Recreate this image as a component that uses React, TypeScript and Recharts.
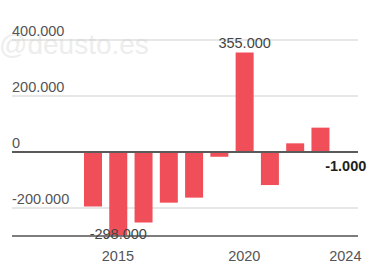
import React from "react";
import { BarChart, Bar, XAxis, YAxis, CartesianGrid, ReferenceLine, LabelList } from "recharts";

const years = [2014, 2015, 2016, 2017, 2018, 2019, 2020, 2021, 2022, 2023, 2024];
const balance = [-195000, -298000, -252000, -181000, -163000, -17000, 355000, -118000, 31000, 87000, -1000];
const yTicks = [-200000, 0, 200000, 400000];
const xTickYears = [2015, 2020, 2024];
const labeledYears = [2015, 2020, 2024];
const highlightYear = 2024;

const C = {
  bar: "#f04f59",
  grid: "#cfcfcf",
  axis: "#5a5a5a",
  text: "#555555",
  label: "#444444",
  strong: "#1e1e1e",
  mark: "#ededed",
};

const FONT = "Liberation Sans, Arial, sans-serif";

const data = years.map((year, i) => ({ year, value: balance[i] }));

function fmt(v: number) {
  const s = Math.abs(v).toString().replace(/\B(?=(\d{3})+(?!\d))/g, ".");
  return v < 0 ? "-" + s : s;
}

function YTick(props: any) {
  const { y, payload } = props;
  return (
    <text x={12} y={y - 4} fontFamily={FONT} fontSize={14.5} fill={C.text}>
      {fmt(payload.value)}
    </text>
  );
}

function XTick(props: any) {
  const { x, y, payload } = props;
  if (!xTickYears.includes(payload.value)) return null;
  return (
    <text x={x} y={y + 17} textAnchor="middle" fontFamily={FONT} fontSize={14.5} fill={C.text}>
      {payload.value}
    </text>
  );
}

function BarLabel(props: any) {
  const { x, y, width, height, index } = props;
  const d = data[index];
  if (!d || !labeledYears.includes(d.year)) return null;
  const cx = x + width / 2;
  const strong = d.year === highlightYear;
  let ty;
  if (d.value >= 0) {
    ty = Math.min(y, y + height) - 5;
  } else {
    const bottom = Math.max(y, y + height);
    ty = Math.min(bottom + 19, 239);
  }
  return (
    <text
      x={cx}
      y={ty}
      textAnchor="middle"
      fontFamily={FONT}
      fontSize={14.5}
      fontWeight={strong ? "bold" : "normal"}
      fill={strong ? C.strong : C.label}
    >
      {fmt(d.value)}
    </text>
  );
}

export default function App() {
  return (
    <div style={{ position: "absolute", left: 0, top: 0, width: 369, height: 266, background: "#fff" }}>
      <div
        style={{
          position: "absolute",
          left: -1,
          top: 30,
          fontFamily: FONT,
          fontSize: 28,
          color: C.mark,
          lineHeight: "30px",
          whiteSpace: "nowrap",
        }}
      >
        @deusto.es
      </div>
      <div style={{ position: "absolute", left: 0, top: 0 }}>
        <BarChart width={369} height={266} data={data} margin={{ top: 40, right: 11, left: 12, bottom: 0 }}>
          <CartesianGrid horizontal vertical={false} stroke={C.grid} />
          <XAxis
            dataKey="year"
            padding={{ left: 68, right: 0 }}
            height={30}
            tick={<XTick />}
            tickLine={false}
            axisLine={{ stroke: C.axis, strokeWidth: 1.5 }}
            interval={0}
          />
          <YAxis
            width={1}
            mirror
            domain={[-300000, 400000]}
            ticks={yTicks}
            interval={0}
            tick={<YTick />}
            tickLine={false}
            axisLine={false}
            allowDataOverflow
          />
          <Bar dataKey="value" fill={C.bar} barSize={18} isAnimationActive={false}>
            <LabelList dataKey="value" content={<BarLabel />} />
          </Bar>
          <ReferenceLine y={0} stroke={C.axis} strokeWidth={2} />
        </BarChart>
      </div>
    </div>
  );
}
